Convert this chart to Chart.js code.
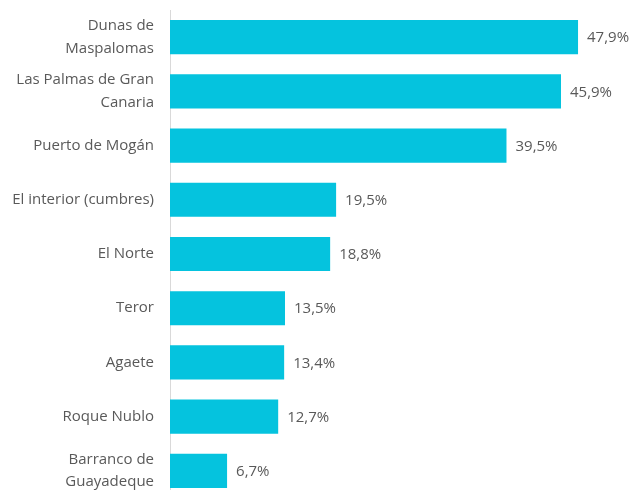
<!DOCTYPE html>
<html>
<head>
<meta charset="utf-8">
<script src="https://cdn.jsdelivr.net/npm/chart.js@4"></script>
<style>
  html, body { margin: 0; padding: 0; background: #fff; overflow: hidden; }
  #wrap { width: 632px; height: 498px; }
</style>
</head>
<body>
<div id="wrap"><canvas id="graph" width="632" height="498"></canvas></div>
<script>
const places = [
    ["Dunas de", "Maspalomas"],
    ["Las Palmas de Gran", "Canaria"],
    "Puerto de Mogán",
    "El interior (cumbres)",
    "El Norte",
    "Teror",
    "Agaete",
    "Roque Nublo",
    ["Barranco de", "Guayadeque"]
];
const shares = [47.9, 45.9, 39.5, 19.5, 18.8, 13.5, 13.4, 12.7, 6.7];

const textColor = "#595959";
const fontName = "'Open Sans', sans-serif";

// etiquetas al final de cada barra
const barLabels = {
    id: "barLabels",
    afterDatasetsDraw(chart) {
        const ctx = chart.ctx;
        const meta = chart.getDatasetMeta(0);
        ctx.save();
        ctx.font = "15px " + fontName;
        ctx.fillStyle = textColor;
        ctx.textAlign = "left";
        ctx.textBaseline = "middle";
        meta.data.forEach((bar, i) => {
            const txt = shares[i].toFixed(1).replace(".", ",") + "%";
            ctx.fillText(txt, bar.x + 9, bar.y + 1);
        });
        ctx.restore();
    }
};

const graph = document.getElementById("graph").getContext("2d");

let myChart = new Chart(graph, {
    type: "bar",
    data: {
        labels: places,
        datasets: [{
            data: shares,
            backgroundColor: "#05C3DE",
            barPercentage: 0.63,
            categoryPercentage: 1
        }]
    },
    options: {
        indexAxis: "y",
        responsive: false,
        animation: false,
        layout: { padding: { top: 10, right: 2, bottom: 0, left: 0 } },
        plugins: {
            legend: { display: false },
            tooltip: { enabled: false }
        },
        scales: {
            x: {
                display: false,
                min: 0,
                max: 54
            },
            y: {
                afterFit(scale) {
                    scale.width = 170;
                    scale.paddingTop = 0;
                    scale.paddingBottom = 0;
                },
                grid: { display: false, drawTicks: false },
                border: { display: true, color: "#d9d9d9", width: 1 },
                ticks: {
                    padding: 16,
                    color: textColor,
                    font: { family: fontName, size: 15, lineHeight: 1.5 }
                }
            }
        }
    },
    plugins: [barLabels]
});
</script>
</body>
</html>
